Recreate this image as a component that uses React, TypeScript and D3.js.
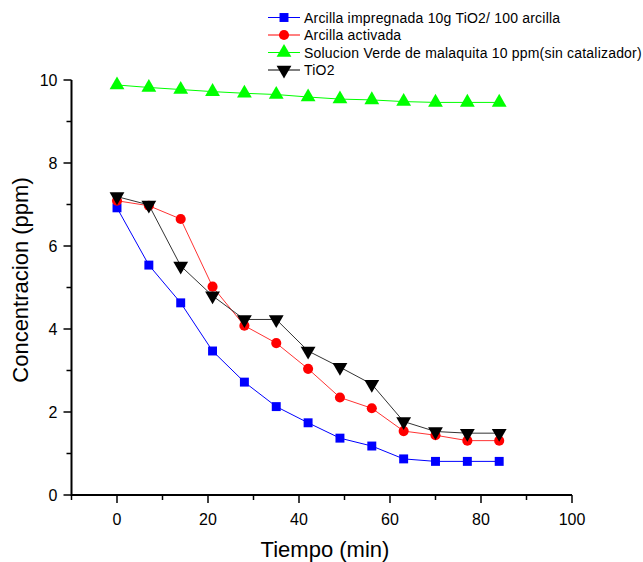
import React from "react";
import * as d3 from "d3";

const times = [0, 7, 14, 21, 28, 35, 42, 49, 56, 63, 70, 77, 84];
const impregnada = [6.92, 5.54, 4.63, 3.47, 2.72, 2.13, 1.74, 1.37, 1.18, 0.87, 0.81, 0.81, 0.81];
const activada = [7.09, 6.97, 6.65, 5.02, 4.08, 3.66, 3.04, 2.35, 2.09, 1.54, 1.44, 1.31, 1.31];
const verde = [9.88, 9.82, 9.77, 9.72, 9.68, 9.65, 9.59, 9.54, 9.52, 9.48, 9.46, 9.46, 9.46];
const tio2 = [7.19, 6.99, 5.52, 4.80, 4.23, 4.23, 3.47, 3.08, 2.67, 1.77, 1.53, 1.49, 1.49];

const seriesNames = [
  "Arcilla impregnada 10g TiO2/ 100 arcilla",
  "Arcilla activada",
  "Solucion Verde de malaquita 10 ppm(sin catalizador)",
  "TiO2",
];
const seriesValues = [impregnada, activada, verde, tio2];
const seriesColors = ["#0000ff", "#ff0000", "#00ff00", "#000000"];
const seriesSymbols = [d3.symbolSquare, d3.symbolCircle, d3.symbolTriangle, d3.symbolTriangle];

const xMajor = [0, 20, 40, 60, 80, 100];
const xMinor = [-10, 10, 30, 50, 70, 90];
const yMajor = [0, 2, 4, 6, 8, 10];
const yMinor = [1, 3, 5, 7, 9];

export default function App() {
  const W = 643, H = 562;
  const x = d3.scaleLinear().domain([-10, 100]).range([71.5, 572]);
  const y = d3.scaleLinear().domain([0, 10]).range([495, 80]);
  const font = "Arial, 'Liberation Sans', sans-serif";
  const line = (vals: number[]) =>
    d3.line<number>().x((_, i) => x(times[i])).y((v) => y(v))(vals) || "";
  const symSize = [80, 80, 95, 95];
  const sym = (i: number) => d3.symbol().type(seriesSymbols[i]).size(symSize[i])() || "";
  const rot = (i: number) => (i === 3 ? " rotate(180)" : "");
  const lineColor = ["#0000ff", "#ff3333", "#00ff00", "#333333"];

  return (
    <svg width={W} height={H} style={{ position: "absolute", left: 0, top: 0 }}>
      <rect width={W} height={H} fill="#fff" />
      {/* axes */}
      <line x1={x(-10)} x2={x(100)} y1={y(0)} y2={y(0)} stroke="#000" strokeWidth={2} />
      <line x1={x(-10)} x2={x(-10)} y1={y(0) + 1} y2={y(10)} stroke="#000" strokeWidth={2} />
      {xMajor.map((t) => (
        <g key={"xm" + t}>
          <line x1={x(t)} x2={x(t)} y1={y(0)} y2={y(0) + 8} stroke="#000" strokeWidth={1.5} />
          <text x={x(t)} y={y(0) + 30} textAnchor="middle" fontSize={16} fontFamily={font}>{t}</text>
        </g>
      ))}
      {xMinor.map((t) => (
        <line key={"xn" + t} x1={x(t)} x2={x(t)} y1={y(0)} y2={y(0) + 5} stroke="#000" strokeWidth={1.5} />
      ))}
      {yMajor.map((t) => (
        <g key={"ym" + t}>
          <line x1={x(-10) - 8} x2={x(-10)} y1={y(t)} y2={y(t)} stroke="#000" strokeWidth={1.5} />
          <text x={x(-10) - 14} y={y(t) + 6} textAnchor="end" fontSize={16} fontFamily={font}>{t}</text>
        </g>
      ))}
      {yMinor.map((t) => (
        <line key={"yn" + t} x1={x(-10) - 5} x2={x(-10)} y1={y(t)} y2={y(t)} stroke="#000" strokeWidth={1.5} />
      ))}
      <text x={325} y={557} textAnchor="middle" fontSize={22} fontFamily={font}>Tiempo (min)</text>
      <text transform="translate(28,280) rotate(-90)" textAnchor="middle" fontSize={22} fontFamily={font}>
        Concentracion (ppm)
      </text>
      {/* series */}
      {seriesValues.map((vals, i) => (
        <g key={"s" + i}>
          <path d={line(vals)} fill="none" stroke={lineColor[i]} strokeWidth={1} />
          {vals.map((v, j) => (
            <path key={j} d={sym(i)} transform={`translate(${x(times[j])},${y(v)})${rot(i)}`} fill={seriesColors[i]} />
          ))}
        </g>
      ))}
      {/* legend */}
      {seriesNames.map((n, i) => {
        const ly = 17.5 + i * 17.5;
        return (
          <g key={"l" + i}>
            <line x1={268} x2={300} y1={ly} y2={ly} stroke={seriesColors[i]} strokeWidth={1} />
            <path d={sym(i)} transform={`translate(284,${ly})${rot(i)}`} fill={seriesColors[i]} />
            <text x={304} y={ly + 5} fontSize={14} letterSpacing={0.2} fontFamily={font}>{n}</text>
          </g>
        );
      })}
    </svg>
  );
}
